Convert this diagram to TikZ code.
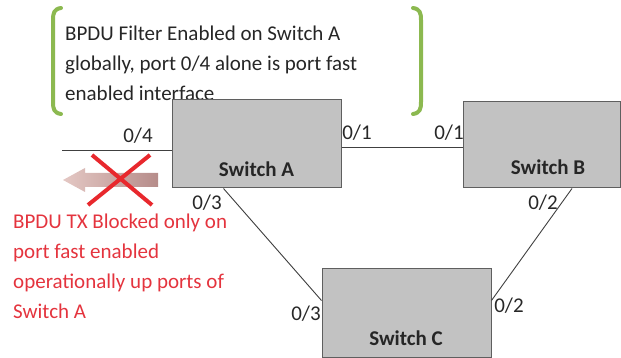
\documentclass[tikz,border=0pt]{standalone}
\usepackage{fontspec}
\setmainfont{Carlito}
\definecolor{boxfill}{RGB}{194,194,194}
\definecolor{boxline}{RGB}{95,95,95}
\definecolor{bracketgreen}{RGB}{140,185,80}
\definecolor{warnred}{RGB}{228,52,62}
\definecolor{xred}{RGB}{232,40,45}
\definecolor{labelgray}{RGB}{40,40,40}
\definecolor{arrowlight}{RGB}{228,200,196}
\definecolor{arrowdark}{RGB}{182,140,138}
\tikzset{
  switchbox/.style={draw=boxline, fill=boxfill, line width=1pt, inner sep=0pt, rectangle},
  switchname/.style={font=\fontsize{21}{24}\selectfont\bfseries, text=black!85, anchor=base, inner sep=0pt},
  portlabel/.style={font=\fontsize{21}{24}\selectfont, text=labelgray, anchor=base, inner sep=0pt},
  link/.style={draw=black!75, line width=0.9pt},
  note/.style={font=\fontsize{21}{30}\selectfont, align=left, anchor=base west, inner sep=0pt},
  bracket/.style={draw=bracketgreen, line width=4pt, line cap=round},
}
\begin{document}
\begin{tikzpicture}[x=1pt,y=-1pt]
\useasboundingbox (0,0) rectangle (621,358);
% top note (anchored at the baseline of its last line)
\node[note, text=black!85] (info) at (65,101) {BPDU Filter Enabled on Switch A\\globally, port 0/4 alone is port fast\\enabled interface};
\draw[bracket] (61,8) .. controls (54,9) and (53,13) .. (53,20) -- (53,102) .. controls (53,109) and (54,113) .. (61,114);
\draw[bracket] (413,8) .. controls (420,9) and (421,13) .. (421,20) -- (421,102) .. controls (421,109) and (420,113) .. (413,114);
% switches
\node[switchbox, minimum width=169pt, minimum height=88pt] (A) at (256.5,144) {};
\node[switchbox, minimum width=157pt, minimum height=86pt] (B) at (541.5,145) {};
\node[switchbox, minimum width=169pt, minimum height=89pt] (C) at (406.5,312.5) {};
\node[switchname] (Aname) at (256.5,177) {Switch A};
\node[switchname] (Bname) at (548,175) {Switch B};
\node[switchname] (Cname) at (406,345) {Switch C};
% links
\coordinate (P4) at (62,150);
\draw[link] (P4) -- ([yshift=-6pt]A.west);
\draw[link] ([yshift=-3pt]A.east) -- ([yshift=-2pt]B.west);
\draw[link] ([xshift=-33pt]A.south) -- ([yshift=12pt]C.west);
\draw[link] ([xshift=30.5pt]B.south) -- ([yshift=12pt]C.east);
% port labels
\node[portlabel] (l04) at (138,143) {0/4};
\node[portlabel] (l01a) at (357,140) {0/1};
\node[portlabel] (l01b) at (449,140) {0/1};
\node[portlabel] (l03a) at (207,210) {0/3};
\node[portlabel] (l03c) at (306,320) {0/3};
\node[portlabel] (l02b) at (543,210) {0/2};
\node[portlabel] (l02c) at (509,312) {0/2};
% blocked arrow
\shade[left color=arrowlight, right color=arrowdark] (63,180) -- (85,168) -- (85,173) -- (158,173) -- (158,187) -- (85,187) -- (85,192) -- cycle;
\draw[xred, line width=4pt] (92,155) -- (152,205);
\draw[xred, line width=4pt] (150,155) -- (88,205);
% red note (anchored at the baseline of its last line)
\node[note, text=warnred] (warn) at (13,318) {BPDU TX Blocked only on\\port fast enabled\\operationally up ports of\\Switch A};
\end{tikzpicture}
\end{document}
